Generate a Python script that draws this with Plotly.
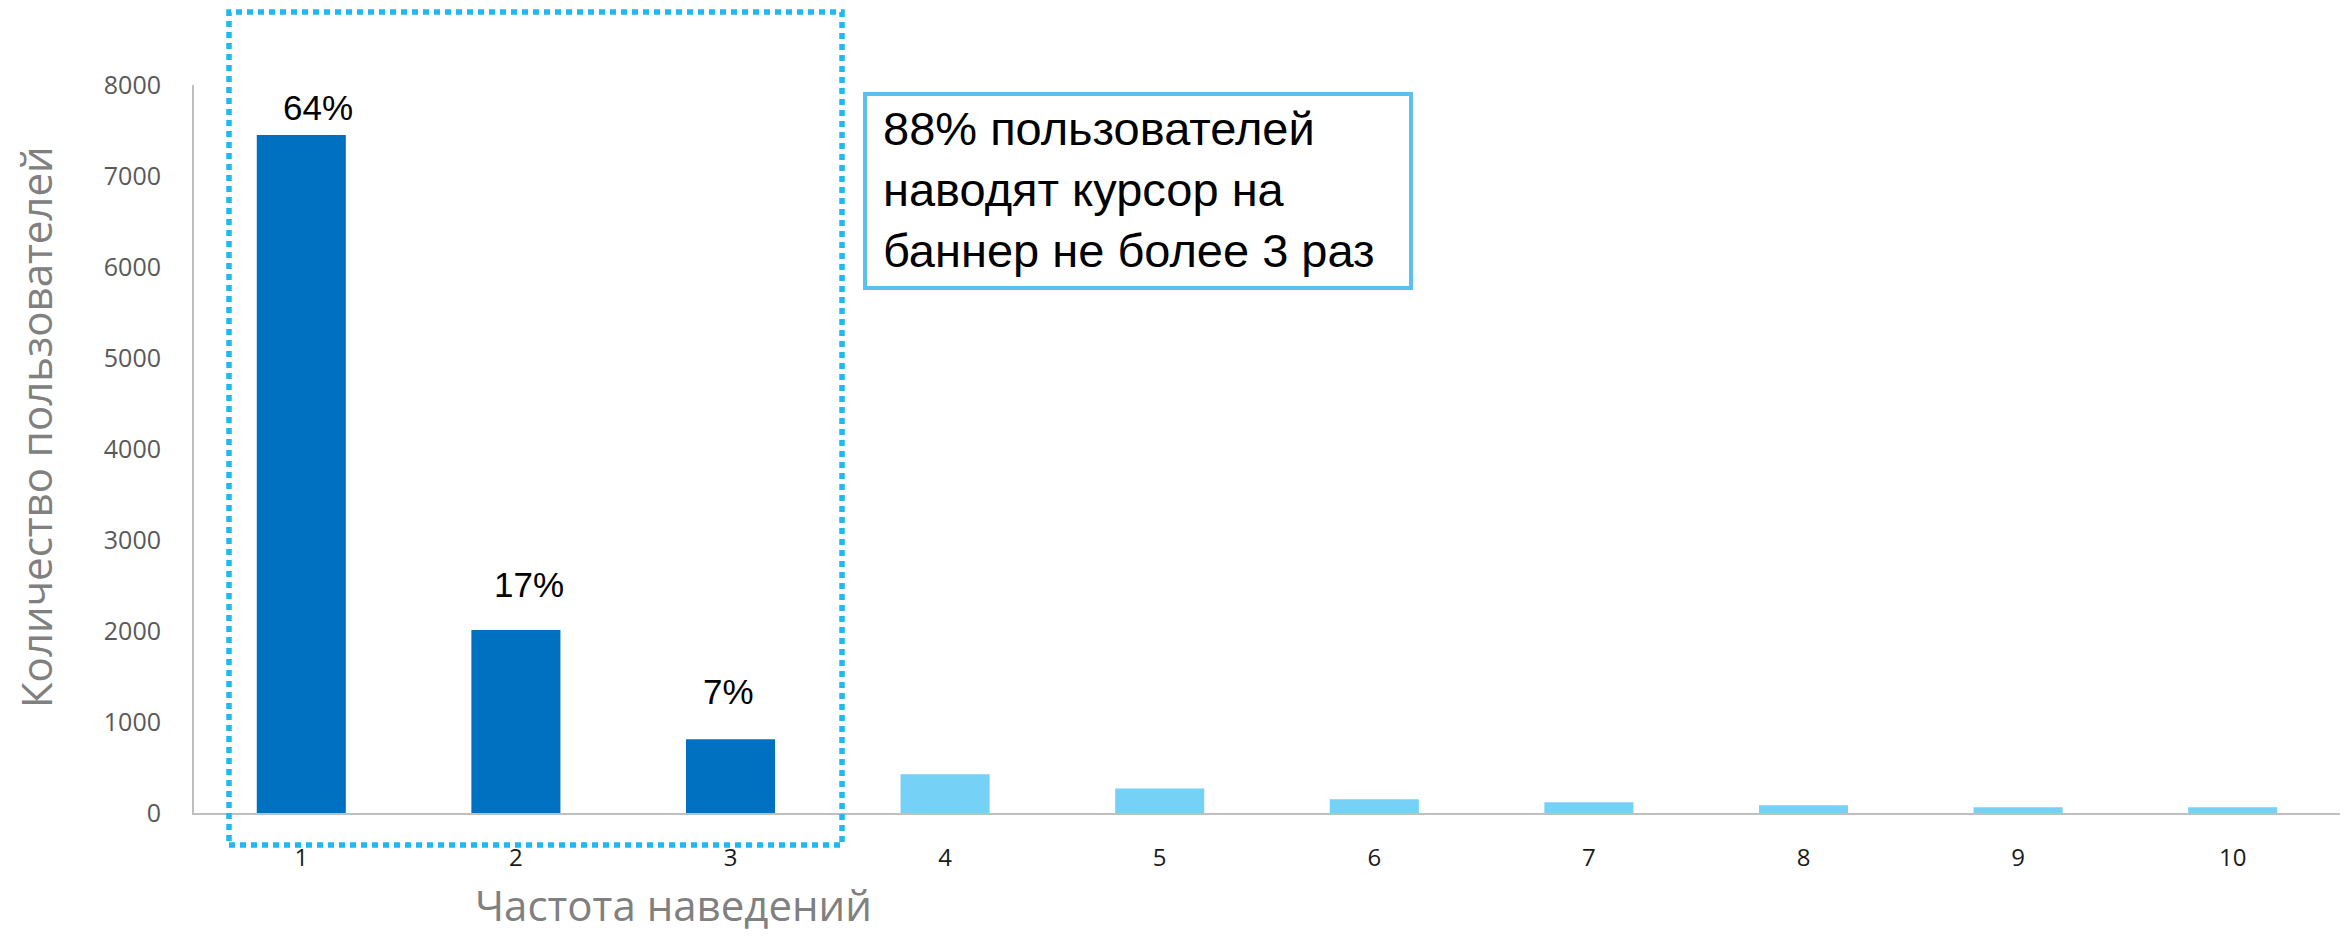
import plotly.graph_objects as go

# ---- data ----
categories = [1, 2, 3, 4, 5, 6, 7, 8, 9, 10]
users = [7450, 2010, 810, 425, 270, 150, 118, 85, 62, 62]
highlight_n = 3
pct_labels = ["64%", "17%", "7%"]
y_ticks = [0, 1000, 2000, 3000, 4000, 5000, 6000, 7000, 8000]
x_title = "Частота наведений"
y_title = "Количество пользователей"
callout = "88% пользователей<br>наводят курсор на<br>баннер не более 3 раз"

# ---- style ----
DARK = "#0070C0"
LIGHT = "#75D1F5"
label_xshift = [17, 13, -2]
label_yshift = [28, 46, 48]

W, H = 2344, 937
L, R, T, B = 194, 4, 85, 124
pw, ph = W - L - R, H - T - B


def px(x):
    return (x - L) / pw


def py(y):
    return (H - B - y) / ph


colors = [DARK if i < highlight_n else LIGHT for i in range(len(categories))]

fig = go.Figure(
    go.Bar(
        x=categories,
        y=users,
        marker=dict(color=colors, line=dict(width=0)),
        width=0.415,
        hoverinfo="x+y",
    )
)

annotations = []
for i, lab in enumerate(pct_labels):
    annotations.append(
        dict(
            x=categories[i], y=users[i], xref="x", yref="y",
            text=lab, showarrow=False, xanchor="center", yanchor="middle",
            xshift=label_xshift[i], yshift=label_yshift[i],
            font=dict(family="Liberation Sans, Arial", size=35, color="#000000"),
        )
    )

annotations.append(
    dict(
        x=px(673), y=py(904), xref="paper", yref="paper",
        text=x_title, showarrow=False, xanchor="center", yanchor="middle",
        font=dict(family="Open Sans", size=42, color="#808080"),
    )
)
annotations.append(
    dict(
        x=px(35), y=py(427), xref="paper", yref="paper",
        text=y_title, showarrow=False, xanchor="center", yanchor="middle",
        textangle=-90,
        font=dict(family="Open Sans", size=42, color="#808080"),
    )
)
annotations.append(
    dict(
        x=px(881), y=py(189), xref="paper", yref="paper",
        text=callout, showarrow=False, xanchor="left", yanchor="middle",
        align="left",
        font=dict(family="Liberation Sans, Arial", size=47, color="#000000"),
    )
)

shapes = [
    dict(
        type="rect", xref="paper", yref="paper",
        x0=px(229), x1=px(842), y0=py(845), y1=py(12),
        line=dict(color="#1FB8F0", width=5.5, dash="6px,5px"),
        fillcolor="rgba(0,0,0,0)", layer="above",
    ),
    dict(
        type="rect", xref="paper", yref="paper",
        x0=px(865), x1=px(1411), y0=py(288), y1=py(94),
        line=dict(color="#5BC0EE", width=4),
        fillcolor="rgba(0,0,0,0)", layer="above",
    ),
]

fig.update_layout(
    width=W, height=H,
    margin=dict(l=L, r=R, t=T, b=B, pad=0),
    paper_bgcolor="white", plot_bgcolor="white",
    showlegend=False,
    bargap=0.585,
    annotations=annotations,
    shapes=shapes,
    font=dict(family="Open Sans"),
)
fig.update_xaxes(
    range=[0.5, 10.5], tickmode="array", tickvals=categories,
    ticktext=[str(c) for c in categories],
    showline=True, linecolor="#BFBFBF", linewidth=2,
    showgrid=False, zeroline=False, ticks="",
    ticklabelstandoff=22,
    tickfont=dict(family="Open Sans", size=24, color="#1a1a1a"),
)
fig.update_yaxes(
    range=[0, 8000], tickmode="array", tickvals=y_ticks,
    showline=True, linecolor="#BFBFBF", linewidth=2,
    showgrid=False, zeroline=False, ticks="",
    ticklabelstandoff=26,
    tickfont=dict(family="Open Sans", size=25, color="#595959"),
)

fig.write_html("out.html")
